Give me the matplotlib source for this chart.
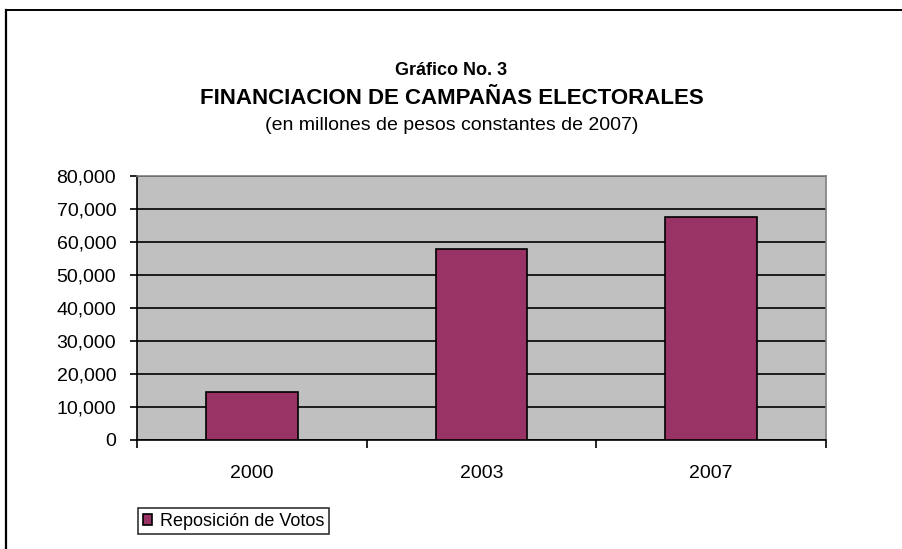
import matplotlib
matplotlib.use("Agg")
import matplotlib.pyplot as plt
from matplotlib.lines import Line2D
from matplotlib.ticker import FuncFormatter, MultipleLocator

categories = ["2000", "2003", "2007"]
values = [14400, 58000, 67700]
series_name = "Reposición de Votos"
title1 = "Gráfico No. 3"
title2 = "FINANCIACION DE CAMPAÑAS ELECTORALES"
title3 = "(en millones de pesos constantes de 2007)"

plt.rcParams['font.family'] = ['Liberation Sans', 'DejaVu Sans']

W, H = 903, 549
fig = plt.figure(figsize=(W / 100, H / 100), dpi=100)
fig.patch.set_facecolor("white")

# outer border (only top and left visible)
fig.add_artist(Line2D([5.5 / W, 5.5 / W], [0, 1 - 10 / H], transform=fig.transFigure,
                      color="black", linewidth=1.6))
fig.add_artist(Line2D([5.5 / W, 1], [1 - 10 / H, 1 - 10 / H], transform=fig.transFigure,
                      color="black", linewidth=1.4))

x0, x1 = 137, 826
y_top, y_bot = 176, 440
ax = fig.add_axes([x0 / W, 1 - y_bot / H, (x1 - x0) / W, (y_bot - y_top) / H])
ax.set_facecolor("#C0C0C0")

pos = list(range(len(categories)))
bars = ax.bar(pos, values, width=0.4, color="#993366", edgecolor="black", linewidth=1.2,
              label=series_name, zorder=3)
ax.set_xlim(-0.5, len(categories) - 0.5)
ax.set_ylim(0, 80000)
ax.yaxis.set_major_locator(MultipleLocator(10000))
ax.yaxis.set_major_formatter(FuncFormatter(lambda v, p: f"{int(v):,}"))
ax.grid(axis="y", color="black", linewidth=1.2, zorder=1)
ax.set_axisbelow(True)

ax.set_xticks(pos)
ax.set_xticklabels(categories)
ax.tick_params(axis="x", which="major", length=0, labelsize=14, pad=18)
ax.set_xticks([p + 0.5 for p in [-1] + pos], minor=True)
ax.tick_params(axis="x", which="minor", length=6, width=1.2, direction="out", color="black")
ax.tick_params(axis="y", length=5, width=1.2, direction="out", labelsize=14, pad=10)

for s in ["top", "right"]:
    ax.spines[s].set_color("#808080")
    ax.spines[s].set_linewidth(1.2)
for s in ["left", "bottom"]:
    ax.spines[s].set_color("black")
    ax.spines[s].set_linewidth(1.2)

fig.text(0.5, 1 - 70 / H, title1, ha="center", va="center", fontsize=13, fontweight="bold")
fig.text(0.5, 1 - 98 / H, title2, ha="center", va="center", fontsize=16, fontweight="bold")
fig.text(0.5, 1 - 125 / H, title3, ha="center", va="center", fontsize=14)

leg = fig.legend(handles=[bars], labels=[series_name], loc="center left",
                 bbox_to_anchor=(138 / W, 1 - 521 / H), fontsize=13, frameon=True,
                 fancybox=False, handlelength=0.55, handleheight=0.55, handletextpad=0.4,
                 borderpad=0.25, borderaxespad=0)
leg.get_frame().set_edgecolor("black")
leg.get_frame().set_linewidth(1.2)

fig.savefig("out.png", dpi=100)
